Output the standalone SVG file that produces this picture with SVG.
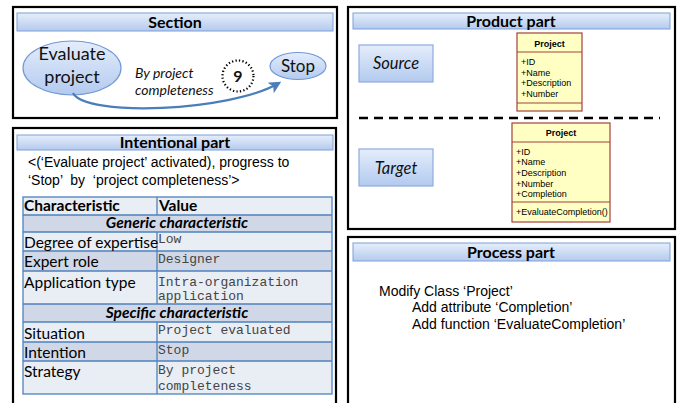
<svg xmlns="http://www.w3.org/2000/svg" width="679" height="403" viewBox="0 0 679 403">
<defs>
<linearGradient id="gTitle" x1="0" y1="0" x2="0" y2="1"><stop offset="0" stop-color="#e6eefb"/><stop offset="1" stop-color="#b5caee"/></linearGradient>
<linearGradient id="gNode" x1="0" y1="0" x2="0" y2="1"><stop offset="0" stop-color="#e4edfb"/><stop offset="1" stop-color="#b3caef"/></linearGradient>
<marker id="arrBlue" viewBox="0 0 10 10" refX="9" refY="5" markerWidth="8" markerHeight="8" orient="auto" markerUnits="userSpaceOnUse"><path d="M1,1 L9,5 L1,9" fill="none" stroke="#4a7ebb" stroke-width="1.6"/></marker>
<marker id="arrCurve" viewBox="0 0 10 10" refX="8" refY="5" markerWidth="12" markerHeight="12" orient="auto" markerUnits="userSpaceOnUse"><path d="M1,1 L9,5 L1,9 L3,5 Z" fill="#4a7ebb" stroke="#4a7ebb" stroke-width="1"/></marker>
</defs>
<style>
.frame{fill:#ffffff;stroke:#000000;stroke-width:2.2}
.tbar{fill:url(#gTitle);stroke:#7d9fd8;stroke-width:1}
.ttl{font-family:Lato,"Liberation Sans",sans-serif;font-weight:bold;font-size:16px;fill:#000;text-anchor:middle}
.ell{fill:url(#gNode);stroke:#7398d2;stroke-width:1.2}
.box{fill:url(#gNode);stroke:#8fabde;stroke-width:1.2}
.cal{font-family:Lato,"Liberation Sans",sans-serif;fill:#111}
.ar{font-family:"Liberation Sans",Arial,sans-serif;font-size:14px;fill:#000}
.uml{fill:#ffffc4;stroke:#a3423c;stroke-width:1.2}
.umlt{font-family:"Liberation Sans",Arial,sans-serif;font-size:9px;fill:#000}
.tl{stroke:#4f81bd;stroke-width:1.3}
.lt{fill:#e9edf4}
.dk{fill:#d0d8e8}
.lc{font-family:Lato,"Liberation Sans",sans-serif;font-size:15.5px;fill:#000}
.mono{font-family:"Liberation Mono","Courier New",monospace;font-size:13px;fill:#444}
</style>

<g id="section">
<rect class="frame" x="13" y="7" width="324" height="111"/>
<rect class="tbar" x="17" y="13" width="316" height="18"/>
<text class="ttl" x="175" y="27.5" font-size="15">Section</text>
</g>
<g id="node-evaluate">
<ellipse class="ell" cx="72" cy="68" rx="49" ry="27"/>
<text class="cal" x="72" y="60" font-size="18" text-anchor="middle">Evaluate</text>
<text class="cal" x="72" y="83" font-size="18" text-anchor="middle">project</text>
</g>
<g id="node-stop">
<ellipse class="ell" cx="298" cy="66" rx="28" ry="13.5"/>
<text class="cal" x="298" y="72" font-size="17" text-anchor="middle">Stop</text>
</g>
<g id="label-9">
<circle cx="238" cy="76" r="15.5" fill="#fff" stroke="#000" stroke-width="2.2" stroke-dasharray="1.3 2.2"/>
<text class="cal" x="238" y="82" font-size="16" font-weight="bold" text-anchor="middle">9</text>
</g>
<g id="connectors">
<path d="M73,93 C85,117 230,112 279,83" fill="none" stroke="#4a7ebb" stroke-width="2.2" marker-end="url(#arrCurve)"/>
<text class="cal" x="135" y="78" font-size="14" font-style="italic">By project</text>
<text class="cal" x="135" y="95" font-size="14" font-style="italic">completeness</text>
<line x1="396" y1="82" x2="396" y2="148" stroke="#4a7ebb" stroke-width="1.3" marker-end="url(#arrBlue)"/>
</g>

<g id="product-part">
<rect class="frame" x="348" y="7" width="327" height="222"/>
<rect class="tbar" x="353" y="13" width="317" height="16"/>
<text class="ttl" x="511" y="27" font-size="17">Product part</text>
<line x1="359" y1="118" x2="660" y2="118" stroke="#000" stroke-width="2.5" stroke-dasharray="9 6"/>
</g>
<g id="node-source">
<rect class="box" x="359" y="45" width="74" height="37"/>
<text class="cal" x="396" y="69" font-size="16.5" font-style="italic" text-anchor="middle">Source</text>
</g>
<g id="node-target">
<rect class="box" x="359" y="149" width="74" height="37"/>
<text class="cal" x="396" y="174" font-size="16.5" font-style="italic" text-anchor="middle">Target</text>
</g>
<g id="class-project-source">
<rect class="uml" x="517" y="33" width="65" height="78"/>
<line x1="517" y1="52" x2="582" y2="52" stroke="#a3423c" stroke-width="1.2"/>
<line x1="517" y1="103" x2="582" y2="103" stroke="#a3423c" stroke-width="1.2"/>
<text class="umlt" x="549.5" y="47" font-weight="bold" text-anchor="middle">Project</text>
<text class="umlt" x="521" y="65">+ID</text>
<text class="umlt" x="521" y="76">+Name</text>
<text class="umlt" x="521" y="86">+Description</text>
<text class="umlt" x="521" y="97">+Number</text>
</g>
<g id="class-project-target">
<rect class="uml" x="512" y="123" width="98" height="99"/>
<line x1="512" y1="142" x2="610" y2="142" stroke="#a3423c" stroke-width="1.2"/>
<line x1="512" y1="202" x2="610" y2="202" stroke="#a3423c" stroke-width="1.2"/>
<text class="umlt" x="561" y="136" font-weight="bold" text-anchor="middle">Project</text>
<text class="umlt" x="516" y="155">+ID</text>
<text class="umlt" x="516" y="165">+Name</text>
<text class="umlt" x="516" y="176">+Description</text>
<text class="umlt" x="516" y="187">+Number</text>
<text class="umlt" x="516" y="197">+Completion</text>
<text class="umlt" x="516" y="215">+EvaluateCompletion()</text>
</g>

<g id="intentional-part">
<rect class="frame" x="13" y="128" width="323" height="290"/>
<rect class="tbar" x="17" y="135" width="316" height="15"/>
<text class="ttl" x="175" y="148" font-size="15.5">Intentional part</text>
<text class="ar" x="28" y="167">&lt;(‘Evaluate project’ activated), progress to</text>
<text class="ar" x="28" y="185" xml:space="preserve">‘Stop’  by  ‘project completeness’&gt;</text>
</g>
<g id="table">
<rect class="lt" x="23" y="197" width="309" height="18"/>
<rect class="dk" x="23" y="215" width="309" height="17"/>
<rect class="lt" x="23" y="232" width="309" height="19"/>
<rect class="dk" x="23" y="251" width="309" height="20"/>
<rect class="lt" x="23" y="271" width="309" height="33"/>
<rect class="dk" x="23" y="304" width="309" height="18"/>
<rect class="lt" x="23" y="322" width="309" height="20"/>
<rect class="dk" x="23" y="342" width="309" height="19"/>
<rect class="lt" x="23" y="361" width="309" height="33"/>
<g fill="none">
<rect class="tl" x="23" y="197" width="309" height="197"/>
<line class="tl" x1="23" y1="215" x2="332" y2="215"/>
<line class="tl" x1="23" y1="232" x2="332" y2="232"/>
<line class="tl" x1="23" y1="251" x2="332" y2="251"/>
<line class="tl" x1="23" y1="271" x2="332" y2="271"/>
<line class="tl" x1="23" y1="304" x2="332" y2="304"/>
<line class="tl" x1="23" y1="322" x2="332" y2="322"/>
<line class="tl" x1="23" y1="342" x2="332" y2="342"/>
<line class="tl" x1="23" y1="361" x2="332" y2="361"/>
<line class="tl" x1="157" y1="197" x2="157" y2="215"/>
<line class="tl" x1="157" y1="232" x2="157" y2="304"/>
<line class="tl" x1="157" y1="322" x2="157" y2="394"/>
</g>
<text class="lc" x="24" y="211" font-size="13" font-weight="bold">Characteristic</text>
<text class="lc" x="159" y="211" font-size="13" font-weight="bold">Value</text>
<text class="lc" x="177" y="228" font-size="13.5" font-weight="bold" font-style="italic" text-anchor="middle">Generic characteristic</text>
<text class="lc" x="24" y="248">Degree of expertise</text>
<text class="lc" x="24" y="267">Expert role</text>
<text class="lc" x="24" y="288">Application type</text>
<text class="lc" x="177" y="318" font-size="13.5" font-weight="bold" font-style="italic" text-anchor="middle">Specific characteristic</text>
<text class="lc" x="24" y="339">Situation</text>
<text class="lc" x="24" y="358">Intention</text>
<text class="lc" x="24" y="377">Strategy</text>
<text class="mono" x="158" y="243" font-size="11">Low</text>
<text class="mono" x="158" y="263">Designer</text>
<text class="mono" x="158" y="286">Intra-organization</text>
<text class="mono" x="158" y="300">application</text>
<text class="mono" x="158" y="334">Project evaluated</text>
<text class="mono" x="158" y="354">Stop</text>
<text class="mono" x="158" y="374">By project</text>
<text class="mono" x="158" y="390">completeness</text>
</g>

<g id="process-part">
<rect class="frame" x="348" y="237" width="327" height="200"/>
<rect class="tbar" x="353" y="243" width="317" height="18"/>
<text class="ttl" x="511" y="258" font-size="16">Process part</text>
<text class="ar" x="379" y="296">Modify Class ‘Project’</text>
<text class="ar" x="412" y="312">Add attribute ‘Completion’</text>
<text class="ar" x="412" y="329">Add function ‘EvaluateCompletion’</text>
</g>
</svg>
